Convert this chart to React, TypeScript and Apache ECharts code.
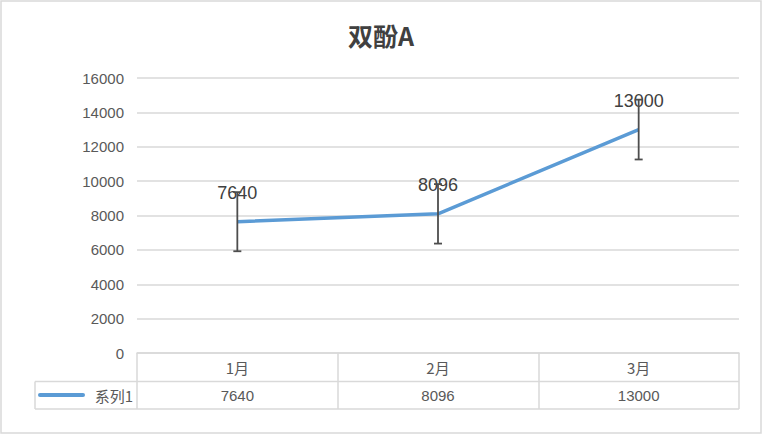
import { useEffect, useRef } from 'react';
import * as echarts from 'echarts';

const TITLE = '双酚A';
const SERIES_NAME = '系列1';
const MONTHS = ['1月', '2月', '3月'];
const VALUES = [7640, 8096, 13000];
const ERRORS = [1720, 1730, 1740];
const Y_TICKS = { min: 0, max: 16000, interval: 2000 };

const LINE_BLUE = '#5B9BD5';
const TEXT = '#595959';
const DARK = '#404040';
const RULE = '#d9d9d9';
const FONT = 'Liberation Sans, Arial, sans-serif';

export default function App() {
  const ref = useRef<HTMLDivElement | null>(null);

  useEffect(() => {
    if (!ref.current) return;
    const chart = echarts.init(ref.current, undefined, { renderer: 'svg' });

    chart.setOption({
      animation: false,
      backgroundColor: '#fff',
      title: {
        text: TITLE,
        left: 'center',
        top: 17,
        textStyle: {
          fontSize: 25,
          fontWeight: 'bold',
          color: DARK,
          fontFamily: 'Noto Sans CJK SC, sans-serif',
        },
      },
      grid: { left: 137, right: 23, top: 78, bottom: 81 },
      xAxis: [
        {
          type: 'category',
          data: MONTHS,
          boundaryGap: true,
          axisLine: { lineStyle: { color: RULE, width: 1.5 } },
          axisTick: { show: true, length: 56, interval: 0, lineStyle: { color: RULE, width: 1.5 } },
          axisLabel: {
            margin: 7,
            color: TEXT,
            fontSize: 15,
            fontFamily: 'Noto Sans CJK SC, sans-serif',
          },
        },
        {
          type: 'category',
          position: 'bottom',
          offset: 28,
          data: VALUES.map(String),
          axisLine: { show: false },
          axisTick: { show: false },
          axisLabel: { margin: 7, color: TEXT, fontSize: 15, fontFamily: FONT },
        },
      ],
      yAxis: {
        type: 'value',
        ...Y_TICKS,
        axisLine: { show: false },
        axisTick: { show: false },
        splitLine: { lineStyle: { color: RULE, width: 1.5 } },
        axisLabel: {
          margin: 13,
          color: TEXT,
          fontSize: 15,
          fontFamily: FONT,
          formatter: (v: number) => String(v),
        },
      },
      graphic: [
        {
          type: 'rect',
          shape: { x: 1, y: 1, width: 760, height: 432 },
          style: { fill: 'none', stroke: RULE, lineWidth: 1.5 },
          silent: true,
        },
        {
          type: 'line',
          shape: { x1: 35, y1: 381.5, x2: 739, y2: 381.5 },
          style: { stroke: RULE, lineWidth: 1.5 },
        },
        {
          type: 'line',
          shape: { x1: 35, y1: 409, x2: 739, y2: 409 },
          style: { stroke: RULE, lineWidth: 1.5 },
        },
        {
          type: 'line',
          shape: { x1: 35, y1: 381.5, x2: 35, y2: 409 },
          style: { stroke: RULE, lineWidth: 1.5 },
        },
        {
          type: 'line',
          shape: { x1: 40, y1: 395, x2: 83, y2: 395 },
          style: { stroke: LINE_BLUE, lineWidth: 4, lineCap: 'round' },
        },
        {
          type: 'text',
          x: 133,
          y: 395,
          style: {
            text: SERIES_NAME,
            align: 'right',
            verticalAlign: 'middle',
            fill: TEXT,
            fontSize: 15,
            fontFamily: 'Noto Sans CJK SC, sans-serif',
          },
        },
      ],
      series: [
        {
          name: SERIES_NAME,
          type: 'line',
          data: VALUES,
          symbol: 'circle',
          symbolSize: 1,
          showSymbol: true,
          itemStyle: { color: 'rgba(0,0,0,0)' },
          lineStyle: { color: LINE_BLUE, width: 3.5 },
          label: {
            show: true,
            position: 'top',
            distance: 19,
            color: DARK,
            fontSize: 18,
            fontFamily: FONT,
          },
          z: 2,
        },
        {
          type: 'custom',
          data: VALUES.map((v, i) => [i, v - ERRORS[i], v + ERRORS[i]]),
          z: 3,
          renderItem: (params: any, api: any) => {
            const lo = api.coord([api.value(0), api.value(1)]);
            const hi = api.coord([api.value(0), api.value(2)]);
            const cap = 4;
            const style = { stroke: '#4d4d4d', lineWidth: 1.8 };
            return {
              type: 'group',
              children: [
                { type: 'line', shape: { x1: hi[0], y1: hi[1], x2: lo[0], y2: lo[1] }, style },
                { type: 'line', shape: { x1: hi[0] - cap, y1: hi[1], x2: hi[0] + cap, y2: hi[1] }, style },
                { type: 'line', shape: { x1: lo[0] - cap, y1: lo[1], x2: lo[0] + cap, y2: lo[1] }, style },
              ],
            };
          },
        },
      ],
    });

    return () => chart.dispose();
  }, []);

  return (
    <div
      ref={ref}
      style={{ position: 'fixed', left: 0, top: 0, width: 762, height: 434 }}
    />
  );
}
